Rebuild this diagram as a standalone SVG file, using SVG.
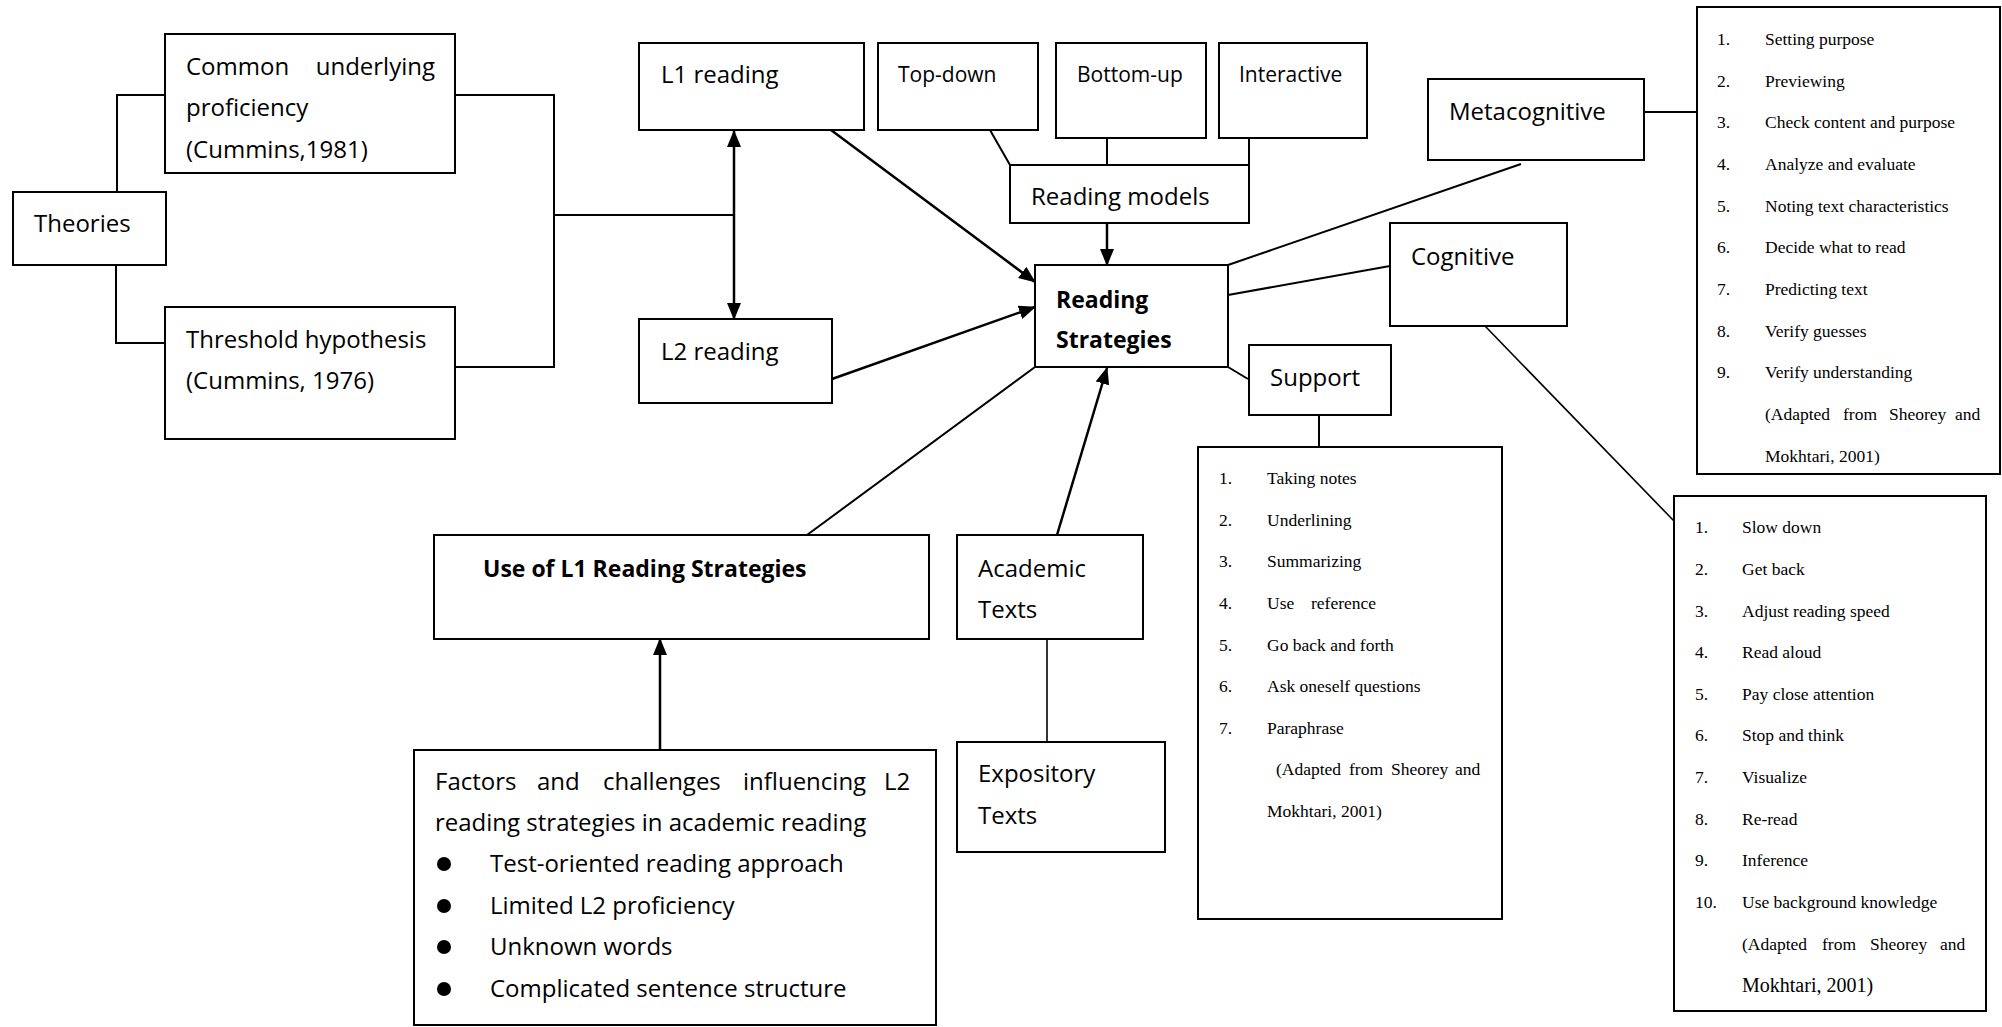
<svg xmlns="http://www.w3.org/2000/svg" width="2002" height="1027" viewBox="0 0 2002 1027">
<style>
.box{fill:#fff;stroke:#000;stroke-width:2}
.t{font-family:"Open Sans","Liberation Sans",sans-serif;font-size:24px;fill:#000}
.ts{font-family:"Open Sans","Liberation Sans",sans-serif;font-size:21px;fill:#000}
.tb{font-family:"Open Sans","Liberation Sans",sans-serif;font-size:23px;font-weight:bold;fill:#000}
.r{font-family:"Liberation Serif","Times New Roman",serif;font-size:17.5px;fill:#000}
.c{fill:none;stroke:#000;stroke-width:2}
.a{fill:none;stroke:#000;stroke-width:2.5;marker-end:url(#ah)}
</style>
<defs>
<marker id="ah" markerUnits="userSpaceOnUse" markerWidth="17" markerHeight="14" refX="16" refY="7" orient="auto-start-reverse">
<path d="M0,0 L17,7 L0,14 z" fill="#000"/>
</marker>
</defs>
<rect width="2002" height="1027" fill="#fff"/>

<g id="connectors">
<polyline class="c" points="117,192 117,95 165,95"/>
<polyline class="c" points="116,265 116,343 165,343"/>
<polyline class="c" points="455,95 554,95 554,367 455,367"/>
<line class="c" x1="554" y1="215" x2="734" y2="215"/>
<line class="a" x1="734" y1="131" x2="734" y2="319" style="marker-start:url(#ah)"/>
<line class="a" x1="831" y1="130" x2="1035" y2="282"/>
<line class="a" x1="832" y1="379" x2="1035" y2="307"/>
<line class="c" x1="990" y1="130" x2="1010" y2="165"/>
<line class="c" x1="1107" y1="138" x2="1107" y2="165"/>
<line class="c" x1="1249" y1="138" x2="1249" y2="165"/>
<line class="a" x1="1107" y1="223" x2="1107" y2="265"/>
<line class="c" x1="1228" y1="265" x2="1521" y2="164"/>
<line class="c" x1="1228" y1="295" x2="1390" y2="266"/>
<line class="c" x1="1228" y1="367" x2="1248" y2="379"/>
<line class="c" x1="1644" y1="112" x2="1697" y2="112"/>
<line class="c" x1="1319" y1="415" x2="1319" y2="447"/>
<line class="c" x1="1485" y1="326" x2="1674" y2="521" style="stroke-width:1.6"/>
<line class="c" x1="1035" y1="367" x2="807" y2="535"/>
<line class="a" x1="1057" y1="535" x2="1107" y2="368"/>
<line class="c" x1="1047" y1="639" x2="1047" y2="742" style="stroke-width:1.6"/>
<line class="a" x1="660" y1="750" x2="660" y2="639"/>
</g>

<g id="theories">
<rect class="box" x="13" y="192" width="153" height="73"/>
<text class="t" x="34" y="232">Theories</text>
</g>

<g id="common-underlying">
<rect class="box" x="165" y="34" width="290" height="139"/>
<text class="t" x="186" y="75">Common</text>
<text class="t" x="435" y="75" text-anchor="end">underlying</text>
<text class="t" x="186" y="116">proficiency</text>
<text class="t" x="186" y="158">(Cummins,1981)</text>
</g>

<g id="threshold">
<rect class="box" x="165" y="307" width="290" height="132"/>
<text class="t" x="186" y="348">Threshold hypothesis</text>
<text class="t" x="186" y="389">(Cummins, 1976)</text>
</g>

<g id="l1-reading">
<rect class="box" x="639" y="43" width="225" height="87"/>
<text class="t" x="661" y="83">L1 reading</text>
</g>

<g id="l2-reading">
<rect class="box" x="639" y="319" width="193" height="84"/>
<text class="t" x="661" y="360">L2 reading</text>
</g>

<g id="top-down">
<rect class="box" x="878" y="43" width="160" height="87"/>
<text class="ts" x="898" y="82">Top-down</text>
</g>

<g id="bottom-up">
<rect class="box" x="1056" y="43" width="150" height="95"/>
<text class="ts" x="1077" y="82">Bottom-up</text>
</g>

<g id="interactive">
<rect class="box" x="1219" y="43" width="148" height="95"/>
<text class="ts" x="1239" y="82">Interactive</text>
</g>

<g id="reading-models">
<rect class="box" x="1010" y="165" width="239" height="58"/>
<text class="t" x="1031" y="205">Reading models</text>
</g>

<g id="reading-strategies">
<rect class="box" x="1035" y="265" width="193" height="102"/>
<text class="tb" x="1056" y="308">Reading</text>
<text class="tb" x="1056" y="348">Strategies</text>
</g>

<g id="metacognitive">
<rect class="box" x="1428" y="79" width="216" height="81"/>
<text class="t" x="1449" y="120">Metacognitive</text>
</g>

<g id="cognitive">
<rect class="box" x="1390" y="223" width="177" height="103"/>
<text class="t" x="1411" y="265">Cognitive</text>
</g>

<g id="support">
<rect class="box" x="1249" y="345" width="142" height="70"/>
<text class="t" x="1270" y="386">Support</text>
</g>

<g id="metacognitive-list">
<rect class="box" x="1697" y="7" width="303" height="467"/>
<text class="r" x="1717" y="45">1.</text><text class="r" x="1765" y="45">Setting purpose</text>
<text class="r" x="1717" y="87">2.</text><text class="r" x="1765" y="87">Previewing</text>
<text class="r" x="1717" y="128">3.</text><text class="r" x="1765" y="128">Check content and purpose</text>
<text class="r" x="1717" y="170">4.</text><text class="r" x="1765" y="170">Analyze and evaluate</text>
<text class="r" x="1717" y="212">5.</text><text class="r" x="1765" y="212">Noting text characteristics</text>
<text class="r" x="1717" y="253">6.</text><text class="r" x="1765" y="253">Decide what to read</text>
<text class="r" x="1717" y="295">7.</text><text class="r" x="1765" y="295">Predicting text</text>
<text class="r" x="1717" y="337">8.</text><text class="r" x="1765" y="337">Verify guesses</text>
<text class="r" x="1717" y="378">9.</text><text class="r" x="1765" y="378">Verify understanding</text>
<text class="r" y="420"><tspan x="1765">(Adapted</tspan><tspan x="1843">from</tspan><tspan x="1889">Sheorey</tspan><tspan x="1955">and</tspan></text>
<text class="r" x="1765" y="462">Mokhtari, 2001)</text>
</g>

<g id="support-list">
<rect class="box" x="1198" y="447" width="304" height="472"/>
<text class="r" x="1219" y="484">1.</text><text class="r" x="1267" y="484">Taking notes</text>
<text class="r" x="1219" y="526">2.</text><text class="r" x="1267" y="526">Underlining</text>
<text class="r" x="1219" y="567">3.</text><text class="r" x="1267" y="567">Summarizing</text>
<text class="r" x="1219" y="609">4.</text><text class="r" y="609"><tspan x="1267">Use</tspan><tspan x="1311">reference</tspan></text>
<text class="r" x="1219" y="651">5.</text><text class="r" x="1267" y="651">Go back and forth</text>
<text class="r" x="1219" y="692">6.</text><text class="r" x="1267" y="692">Ask oneself questions</text>
<text class="r" x="1219" y="734">7.</text><text class="r" x="1267" y="734">Paraphrase</text>
<text class="r" y="775"><tspan x="1276">(Adapted</tspan><tspan x="1349">from</tspan><tspan x="1391">Sheorey</tspan><tspan x="1455">and</tspan></text>
<text class="r" x="1267" y="817">Mokhtari, 2001)</text>
</g>

<g id="cognitive-list">
<rect class="box" x="1674" y="496" width="312" height="515"/>
<text class="r" x="1695" y="533">1.</text><text class="r" x="1742" y="533">Slow down</text>
<text class="r" x="1695" y="575">2.</text><text class="r" x="1742" y="575">Get back</text>
<text class="r" x="1695" y="617">3.</text><text class="r" x="1742" y="617">Adjust reading speed</text>
<text class="r" x="1695" y="658">4.</text><text class="r" x="1742" y="658">Read aloud</text>
<text class="r" x="1695" y="700">5.</text><text class="r" x="1742" y="700">Pay close attention</text>
<text class="r" x="1695" y="741">6.</text><text class="r" x="1742" y="741">Stop and think</text>
<text class="r" x="1695" y="783">7.</text><text class="r" x="1742" y="783">Visualize</text>
<text class="r" x="1695" y="825">8.</text><text class="r" x="1742" y="825">Re-read</text>
<text class="r" x="1695" y="866">9.</text><text class="r" x="1742" y="866">Inference</text>
<text class="r" x="1695" y="908">10.</text><text class="r" x="1742" y="908">Use background knowledge</text>
<text class="r" y="950"><tspan x="1742">(Adapted</tspan><tspan x="1822">from</tspan><tspan x="1870">Sheorey</tspan><tspan x="1940">and</tspan></text>
<text class="r" x="1742" y="992" style="font-size:20px">Mokhtari, 2001)</text>
</g>

<g id="use-of-l1">
<rect class="box" x="434" y="535" width="495" height="104"/>
<text class="tb" x="483" y="577">Use of L1 Reading Strategies</text>
</g>

<g id="academic-texts">
<rect class="box" x="957" y="535" width="186" height="104"/>
<text class="t" x="978" y="577">Academic</text>
<text class="t" x="978" y="618">Texts</text>
</g>

<g id="expository-texts">
<rect class="box" x="957" y="742" width="208" height="110"/>
<text class="t" x="978" y="782">Expository</text>
<text class="t" x="978" y="824">Texts</text>
</g>

<g id="factors">
<rect class="box" x="414" y="750" width="522" height="275"/>
<text class="t" y="790"><tspan x="435">Factors</tspan><tspan x="537">and</tspan><tspan x="603">challenges</tspan><tspan x="743">influencing</tspan><tspan x="884">L2</tspan></text>
<text class="t" x="435" y="831">reading strategies in academic reading</text>
<circle cx="444" cy="864" r="7"/><text class="t" x="490" y="872">Test-oriented reading approach</text>
<circle cx="444" cy="906" r="7"/><text class="t" x="490" y="914">Limited L2 proficiency</text>
<circle cx="444" cy="947" r="7"/><text class="t" x="490" y="955">Unknown words</text>
<circle cx="444" cy="989" r="7"/><text class="t" x="490" y="997">Complicated sentence structure</text>
</g>
</svg>
